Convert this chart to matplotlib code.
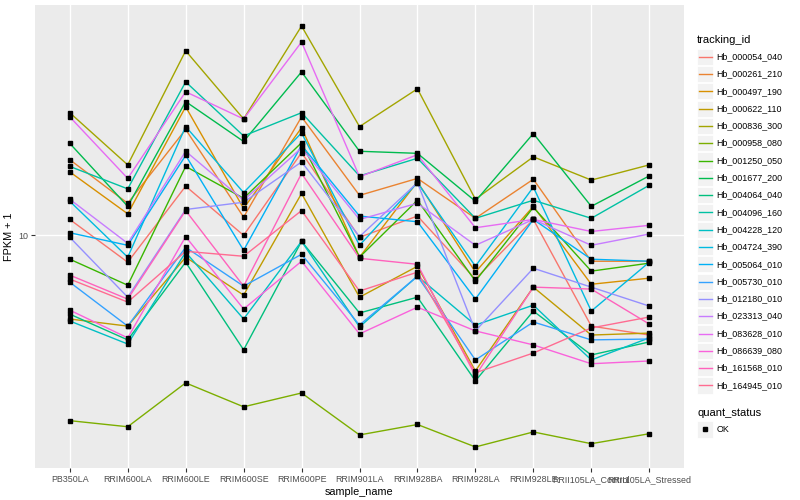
import math
import matplotlib.pyplot as plt
from matplotlib.patches import Rectangle
from matplotlib.lines import Line2D

plt.rcParams['font.family'] = ['Liberation Sans', 'DejaVu Sans']

samples = ['PB350LA', 'RRIM600LA', 'RRIM600LE', 'RRIM600SE', 'RRIM600PE', 'RRIM901LA',
           'RRIM928BA', 'RRIM928LA', 'RRIM928LE', 'RRII105LA_Control', 'RRII105LA_Stressed']

gene_ids = ['Hb_000054_040', 'Hb_000261_210', 'Hb_000497_190', 'Hb_000622_110', 'Hb_000836_300',
            'Hb_000958_080', 'Hb_001250_050', 'Hb_001677_200', 'Hb_004064_040', 'Hb_004096_160',
            'Hb_004228_120', 'Hb_004724_390', 'Hb_005064_010', 'Hb_005730_010', 'Hb_012180_010',
            'Hb_023313_040', 'Hb_083628_010', 'Hb_086639_080', 'Hb_161568_010', 'Hb_164945_010']

# FPKM + 1, one list per gene, in the order of samples
hb_000054_040 = [11.3, 8.13, 14.6, 10.0, 18.9, 9.85, 11.6, 7.14, 11.3, 4.97, 4.64]
hb_000261_210 = [17.9, 12.8, 22.6, 11.5, 24.9, 13.6, 15.5, 11.4, 15.4, 8.19, 8.19]
hb_000497_190 = [16.3, 11.8, 26.9, 12.3, 22.9, 8.45, 15.1, 7.53, 12.5, 6.86, 7.19]
hb_000622_110 = [5.25, 4.97, 8.45, 6.31, 13.8, 6.21, 7.88, 3.52, 6.71, 4.64, 4.71]
hb_000836_300 = [25.7, 17.2, 41.4, 24.5, 50.1, 23.1, 30.9, 13.2, 18.3, 15.3, 17.2]
hb_000958_080 = [2.40, 2.29, 3.21, 2.67, 2.97, 2.15, 2.33, 1.96, 2.20, 2.01, 2.17]
hb_001250_050 = [8.32, 6.81, 17.0, 13.3, 20.4, 8.45, 13.1, 7.03, 12.4, 7.59, 8.07]
hb_001677_200 = [20.3, 12.5, 28.0, 20.6, 35.2, 19.1, 18.8, 13.0, 21.9, 12.5, 15.8]
hb_004064_040 = [5.45, 4.47, 8.13, 4.14, 9.55, 5.50, 6.21, 3.26, 5.58, 3.98, 4.40]
hb_004096_160 = [17.0, 14.3, 32.6, 21.5, 25.7, 15.8, 18.1, 11.4, 13.1, 11.4, 14.7]
hb_004228_120 = [5.17, 4.33, 8.78, 5.25, 9.55, 4.94, 7.30, 5.01, 5.84, 3.83, 4.54]
hb_004724_390 = [13.0, 8.45, 23.1, 13.9, 22.0, 9.26, 15.0, 7.88, 14.5, 5.58, 8.13]
hb_005064_010 = [10.2, 9.26, 18.5, 8.91, 20.0, 11.6, 11.1, 6.12, 11.3, 8.32, 8.19]
hb_005730_010 = [6.97, 4.97, 9.12, 6.76, 8.64, 5.01, 7.30, 3.83, 5.13, 4.47, 4.50]
hb_012180_010 = [9.85, 6.21, 12.2, 12.9, 17.6, 9.90, 15.0, 4.79, 7.76, 6.71, 5.80]
hb_023313_040 = [13.2, 9.40, 19.1, 13.1, 19.6, 11.3, 12.8, 9.26, 11.3, 9.26, 10.1]
hb_083628_010 = [24.9, 15.5, 30.2, 24.5, 44.3, 15.7, 18.6, 10.6, 11.3, 10.3, 10.8]
hb_086639_080 = [5.62, 4.54, 9.90, 5.67, 8.19, 4.68, 5.75, 4.79, 4.30, 3.72, 3.80]
hb_161568_010 = [7.36, 6.12, 12.1, 6.76, 16.1, 8.38, 8.00, 3.39, 6.71, 6.61, 5.05]
hb_164945_010 = [7.14, 5.98, 8.84, 8.51, 12.1, 6.51, 7.53, 3.47, 4.04, 4.90, 5.33]

series = [hb_000054_040, hb_000261_210, hb_000497_190, hb_000622_110, hb_000836_300,
          hb_000958_080, hb_001250_050, hb_001677_200, hb_004064_040, hb_004096_160,
          hb_004228_120, hb_004724_390, hb_005064_010, hb_005730_010, hb_012180_010,
          hb_023313_040, hb_083628_010, hb_086639_080, hb_161568_010, hb_164945_010]

# ggplot hue palette, 20 levels
colors = ['#F8766D', '#EA8331', '#D89000', '#C09B00', '#A3A500', '#7CAE00', '#39B600',
          '#00BB4E', '#00BF7D', '#00C1A3', '#00BFC4', '#00BAE0', '#00B0F6', '#35A2FF',
          '#9590FF', '#C77CFF', '#E76BF3', '#FA62DB', '#FF62BC', '#FF6C91']

W, H = 800, 500
fig = plt.figure(figsize=(8, 5), dpi=100)
ax = fig.add_axes([35 / W, 1 - 468 / H, 649 / W, 463 / H])
ax.set_facecolor('#EBEBEB')
for s in ax.spines.values():
    s.set_visible(False)

x = list(range(len(samples)))
for vals, c in zip(series, colors):
    ax.plot(x, vals, color=c, lw=1.0, zorder=2)
for vals in series:
    ax.plot(x, vals, ls='none', marker='s', ms=2.2, color='black', zorder=3)

# log y with ggplot-like 5% expansion
ax.set_yscale('log')
lo = min(min(v) for v in series)
hi = max(max(v) for v in series)
llo, lhi = math.log10(lo), math.log10(hi)
pad = 0.05 * (lhi - llo)
ax.set_ylim(10 ** (llo - pad), 10 ** (lhi + pad))
ax.set_xlim(-0.6, len(samples) - 1 + 0.6)

ax.set_yticks([10])
ax.set_yticklabels(['10'])
ax.yaxis.set_minor_locator(plt.NullLocator())
ax.set_xticks(x)
ax.set_xticklabels(samples)
ax.grid(True, color='white', lw=1.0)
ax.set_axisbelow(True)
ax.tick_params(length=3, width=0.8, color='#333333', labelcolor='#4D4D4D',
               labelsize=6.4, pad=2)
ax.set_xlabel('sample_name', fontsize=7.8, labelpad=2)
ax.set_ylabel('FPKM + 1', fontsize=7.8, labelpad=3)


def fx(px):
    return px / W


def fy(py):
    return 1 - py / H


# legend: tracking_id
fig.text(fx(697), fy(40), 'tracking_id', fontsize=8, va='center', ha='left')
for i, (g, c) in enumerate(zip(gene_ids, colors)):
    yc = 56.7 + i * 17.3
    fig.add_artist(Rectangle((fx(697), fy(yc + 8.1)), 16 / W, 16.2 / H,
                             transform=fig.transFigure, facecolor='#F2F2F2',
                             edgecolor='white', lw=0.6))
    fig.add_artist(Line2D([fx(698.5), fx(711.5)], [fy(yc), fy(yc)],
                          transform=fig.transFigure, color=c, lw=1.0))
    fig.text(fx(716.5), fy(yc), g, fontsize=6.4, va='center', ha='left')

# legend: quant_status
fig.text(fx(697), fy(413), 'quant_status', fontsize=8, va='center', ha='left')
fig.add_artist(Rectangle((fx(697), fy(437.5)), 16 / W, 16.2 / H,
                         transform=fig.transFigure, facecolor='#F2F2F2',
                         edgecolor='white', lw=0.6))
fig.add_artist(Line2D([fx(705)], [fy(429.4)], transform=fig.transFigure,
                      ls='none', marker='s', ms=2.2, color='black'))
fig.text(fx(716.5), fy(429.4), 'OK', fontsize=6.4, va='center', ha='left')

fig.savefig('out.png', dpi=100)
